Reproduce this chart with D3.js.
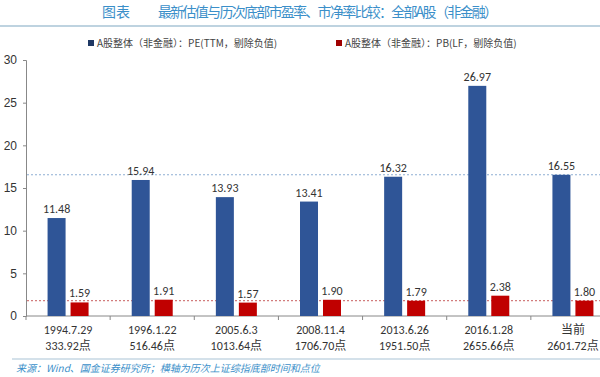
<!DOCTYPE html>
<html>
<head>
<meta charset="utf-8">
<script src="https://cdn.jsdelivr.net/npm/d3@7"></script>
<style>
  body { margin: 0; background: #fff; }
  svg { display: block; font-family: Calibri, "Liberation Sans", "Noto Sans CJK SC", sans-serif; }
</style>
</head>
<body>
<div id="chart"></div>
<script>
const dates = ["1994.7.29", "1996.1.22", "2005.6.3", "2008.11.4", "2013.6.26", "2016.1.28", "当前"];
const points = ["333.92点", "516.46点", "1013.64点", "1706.70点", "1951.50点", "2655.66点", "2601.72点"];
const peValues = [11.48, 15.94, 13.93, 13.41, 16.32, 26.97, 16.55];
const pbValues = [1.59, 1.91, 1.57, 1.90, 1.79, 2.38, 1.80];
const seriesNames = ["A股整体（非金融）：PE(TTM，剔除负值)", "A股整体（非金融）：PB(LF，剔除负值)"];
const yTicks = [0, 5, 10, 15, 20, 25, 30];

const width = 600, height = 377;
const colors = ["#2f5597", "#c00000"];

const svg = d3.select("#chart").append("svg")
    .attr("width", width)
    .attr("height", height);

// title
svg.append("text")
    .attr("x", 102).attr("y", 17)
    .attr("fill", "#3b8fc9")
    .style("font-family", "'Noto Sans CJK SC', sans-serif")
    .style("font-size", "14px")
    .text("图表");
svg.append("text")
    .attr("x", 158).attr("y", 17)
    .attr("fill", "#3b8fc9")
    .style("font-family", "'Noto Sans CJK SC', sans-serif")
    .style("font-size", "14px")
    .attr("textLength", 340)
    .text("最新估值与历次底部市盈率、市净率比较：全部A股（非金融）");
svg.append("line")
    .attr("x1", 0).attr("x2", width).attr("y1", 26).attr("y2", 26)
    .attr("stroke", "#a9c4d6").attr("stroke-width", 1.5);

// legend
const legendX = [88, 336];
seriesNames.forEach((name, i) => {
    svg.append("rect")
        .attr("x", legendX[i]).attr("y", 40)
        .attr("width", 6).attr("height", 6)
        .attr("fill", i === 0 ? "#1f3864" : "#a00000");
    svg.append("text")
        .attr("x", legendX[i] + 9).attr("y", 47)
        .attr("fill", "#444")
        .style("font-family", "'Noto Sans CJK SC', sans-serif")
        .style("font-size", "10px")
        .text(name);
});

// scales
const y = d3.scaleLinear().domain([0, 30]).range([316, 60]);
const x0 = d3.scaleBand().domain(dates).range([26, 615]);
const bw = x0.bandwidth();
const x1 = d3.scaleBand().domain([0, 1])
    .range([bw / 2 - 20.5, bw / 2 + 20.5])
    .paddingInner(0.217);

// y axis
const yAxis = svg.append("g")
    .attr("transform", "translate(26,0)")
    .call(d3.axisLeft(y).tickValues(yTicks).tickSize(3).tickPadding(6));
yAxis.select(".domain").attr("stroke", "#888");
yAxis.selectAll(".tick line").attr("stroke", "#888");
yAxis.selectAll(".tick text").attr("fill", "#333").style("font-size", "12px");

// x axis
const xAxisG = svg.append("g").attr("transform", "translate(0,316)");
xAxisG.append("line")
    .attr("x1", 26).attr("x2", 615)
    .attr("stroke", "#888");
xAxisG.selectAll("line.tk")
    .data(dates.map((d, i) => i))
    .enter().append("line")
    .attr("class", "tk")
    .attr("x1", i => x0(dates[i])).attr("x2", i => x0(dates[i]))
    .attr("y1", 0).attr("y2", 4)
    .attr("stroke", "#888");

const labels = svg.append("g");
dates.forEach((d, i) => {
    const cx = x0(d) + bw / 2;
    labels.append("text")
        .attr("x", cx).attr("y", 334)
        .attr("text-anchor", "middle")
        .attr("fill", "#333")
        .style("font-size", "12px")
        .text(d);
    labels.append("text")
        .attr("x", cx).attr("y", 350)
        .attr("text-anchor", "middle")
        .attr("fill", "#333")
        .style("font-size", "12px")
        .text(points[i]);
});

// reference lines at current values
const refLines = [peValues[peValues.length - 1], pbValues[pbValues.length - 1]];
const refColors = ["#8eaed4", "#d27d7d"];
refLines.forEach((v, i) => {
    svg.append("line")
        .attr("x1", 27).attr("x2", width)
        .attr("y1", y(v)).attr("y2", y(v))
        .attr("stroke", refColors[i])
        .attr("stroke-width", 1.2)
        .attr("stroke-dasharray", "2,2");
});

// bars
const groups = svg.append("g").selectAll("g")
    .data(dates.map((d, i) => ({ date: d, vals: [peValues[i], pbValues[i]] })))
    .enter().append("g")
    .attr("transform", d => `translate(${x0(d.date)},0)`);

groups.selectAll("rect")
    .data(d => d.vals.map((v, k) => ({ k, v })))
    .enter().append("rect")
    .attr("x", d => x1(d.k))
    .attr("width", x1.bandwidth())
    .attr("y", d => y(d.v))
    .attr("height", d => y(0) - y(d.v))
    .attr("fill", d => colors[d.k]);

groups.selectAll("text")
    .data(d => d.vals.map((v, k) => ({ k, v })))
    .enter().append("text")
    .attr("x", d => x1(d.k) + x1.bandwidth() / 2)
    .attr("y", d => y(d.v) - 5)
    .attr("text-anchor", "middle")
    .attr("fill", "#333")
    .style("font-size", "12px")
    .text(d => d.v.toFixed(2));

// footer
svg.append("line")
    .attr("x1", 12).attr("x2", width).attr("y1", 359).attr("y2", 359)
    .attr("stroke", "#a9c4d6").attr("stroke-width", 1.2);
svg.append("text")
    .attr("x", 16).attr("y", 372)
    .attr("fill", "#3b8fc9")
    .style("font-family", "'Noto Sans CJK SC', sans-serif")
    .style("font-size", "10px")
    .style("font-style", "italic")
    .text("来源：Wind、国金证券研究所；横轴为历次上证综指底部时间和点位");
</script>
</body>
</html>
